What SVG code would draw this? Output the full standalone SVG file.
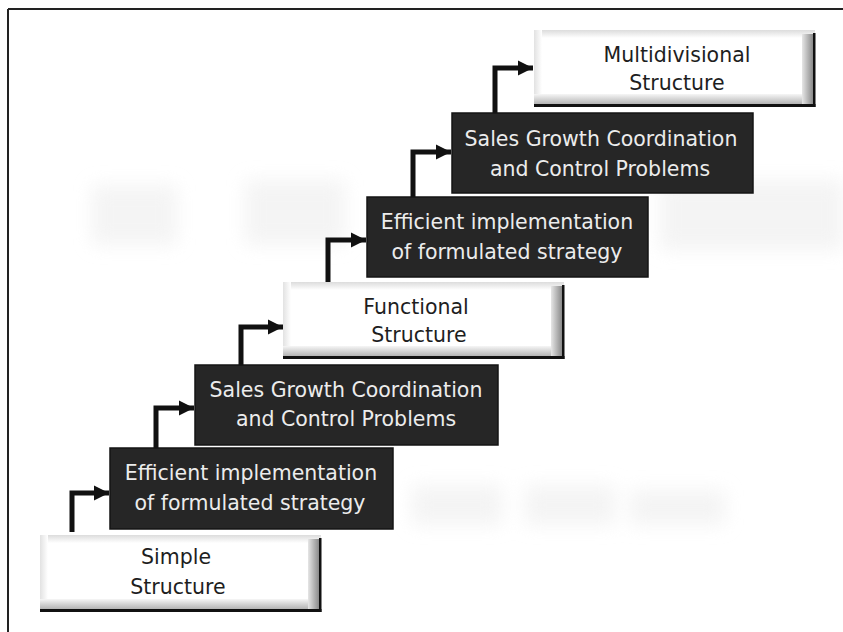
<svg xmlns="http://www.w3.org/2000/svg" width="843" height="632" viewBox="0 0 843 632">
<style>
.dk{fill:#262626;stroke:#141414;stroke-width:1.5}
.wtxt{font-family:"DejaVu Sans",Verdana,sans-serif;font-size:20.5px;fill:#ececec;text-anchor:middle}
.btxt{font-family:"DejaVu Sans",Verdana,sans-serif;font-size:20.5px;fill:#1e1e1e;text-anchor:middle}
.conn{fill:none;stroke:#111;stroke-width:5;stroke-linejoin:miter}
.ghost{fill:#ededed}
</style>
<defs>
<marker id="ah" markerUnits="userSpaceOnUse" markerWidth="18" markerHeight="18" refX="16" refY="9" orient="auto">
<path d="M1,1.5 L16,9 L1,16.5 Z" fill="#111"/>
</marker>
<linearGradient id="rside" x1="0" y1="0" x2="1" y2="0">
<stop offset="0" stop-color="#e6e6e6"/>
<stop offset="1" stop-color="#8a8a8a"/>
</linearGradient>
<linearGradient id="bside" x1="0" y1="0" x2="0" y2="1">
<stop offset="0" stop-color="#f6f6f6"/>
<stop offset="1" stop-color="#b4b4b4"/>
</linearGradient>
<linearGradient id="tside" x1="0" y1="0" x2="0" y2="1">
<stop offset="0" stop-color="#dcdcdc"/>
<stop offset="1" stop-color="#ffffff"/>
</linearGradient>
<linearGradient id="lside" x1="0" y1="0" x2="1" y2="0">
<stop offset="0" stop-color="#e2e2e2"/>
<stop offset="1" stop-color="#ffffff"/>
</linearGradient>
<filter id="blur" x="-30%" y="-30%" width="160%" height="160%"><feGaussianBlur stdDeviation="9"/></filter>
<g id="wbox">
<rect x="0" y="0" width="281" height="77" fill="#ffffff"/>
<rect x="0" y="0" width="281" height="8" fill="url(#tside)"/>
<rect x="0" y="0" width="8" height="77" fill="url(#lside)"/>
<rect x="0" y="64" width="281" height="10" fill="url(#bside)"/>
<rect x="268" y="4" width="11" height="71" fill="url(#rside)"/>
<rect x="279" y="3" width="2.5" height="74" fill="#111"/>
<rect x="0" y="74" width="281.5" height="3" fill="#111"/>
</g>
</defs>
<rect width="843" height="632" fill="#ffffff"/>
<g id="background" filter="url(#blur)" opacity="0.6">
<rect class="ghost" x="92" y="185" width="85" height="60"/>
<rect class="ghost" x="245" y="180" width="100" height="65"/>
<rect class="ghost" x="660" y="180" width="183" height="70"/>
<rect class="ghost" x="412" y="485" width="90" height="40"/>
<rect class="ghost" x="525" y="485" width="90" height="40"/>
<rect class="ghost" x="630" y="490" width="95" height="35"/>
</g>
<g id="frame">
<line x1="8" y1="9" x2="843" y2="9" stroke="#222" stroke-width="2"/>
<line x1="8" y1="9" x2="8" y2="632" stroke="#222" stroke-width="2"/>
</g>
<g id="connectors">
<path class="conn" d="M72,532 V493 H109" marker-end="url(#ah)"/>
<path class="conn" d="M156,448 V408 H194" marker-end="url(#ah)"/>
<path class="conn" d="M241,365 V327 H283" marker-end="url(#ah)"/>
<path class="conn" d="M328,282 V240 H366" marker-end="url(#ah)"/>
<path class="conn" d="M413,197 V152 H451" marker-end="url(#ah)"/>
<path class="conn" d="M495,113 V68 H533" marker-end="url(#ah)"/>
</g>
<g id="simple-structure">
<use href="#wbox" x="40" y="535"/>
<text class="btxt" x="176" y="564">Simple</text>
<text class="btxt" x="178" y="594">Structure</text>
</g>
<g id="efficient-1">
<rect class="dk" x="110" y="448" width="283" height="81"/>
<text class="wtxt" x="251" y="480">Efficient implementation</text>
<text class="wtxt" x="250" y="510">of formulated strategy</text>
</g>
<g id="sales-1">
<rect class="dk" x="195" y="365" width="303" height="80"/>
<text class="wtxt" x="346" y="397">Sales Growth Coordination</text>
<text class="wtxt" x="346" y="426">and Control Problems</text>
</g>
<g id="functional-structure">
<use href="#wbox" x="283" y="282"/>
<text class="btxt" x="416" y="314">Functional</text>
<text class="btxt" x="419" y="342">Structure</text>
</g>
<g id="efficient-2">
<rect class="dk" x="367" y="197" width="281" height="80"/>
<text class="wtxt" x="507" y="229">Efficient implementation</text>
<text class="wtxt" x="507" y="259">of formulated strategy</text>
</g>
<g id="sales-2">
<rect class="dk" x="452" y="113" width="301" height="80"/>
<text class="wtxt" x="601" y="146">Sales Growth Coordination</text>
<text class="wtxt" x="600" y="176">and Control Problems</text>
</g>
<g id="multidivisional-structure">
<use href="#wbox" x="534" y="30"/>
<text class="btxt" x="677" y="62">Multidivisional</text>
<text class="btxt" x="677" y="90">Structure</text>
</g>
</svg>
